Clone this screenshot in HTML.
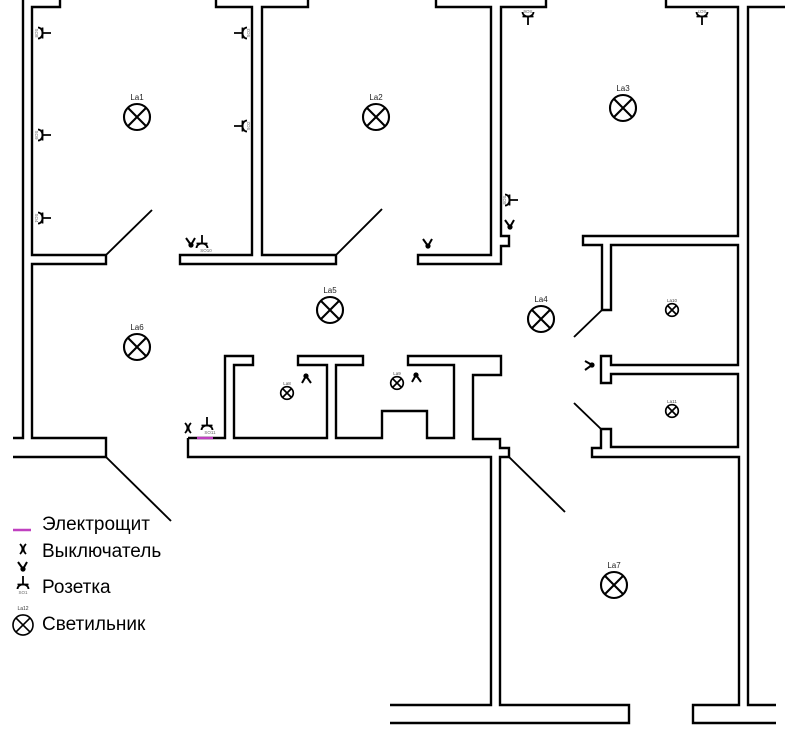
<!DOCTYPE html>
<html><head><meta charset="utf-8"><style>
html,body{margin:0;padding:0;background:#fff;}
svg{display:block;}
</style></head><body>
<svg width="805" height="733" viewBox="0 0 805 733" xmlns="http://www.w3.org/2000/svg">
<rect width="805" height="733" fill="#fff"/>
<defs>
  <g id="sock" fill="none" stroke="#000" stroke-width="1.8">
    <path d="M-5.5,0 A5.5,4.5 0 0 0 5.5,0"/>
    <path d="M-5.5,4.5 H5.5 M0,4.5 V13"/>
  </g>
  <g id="sw" fill="none" stroke="#000" stroke-width="2">
    <path d="M-5,-4 L0,3 L4,-4"/>
    <circle cx="0" cy="3" r="1.6" fill="#000"/>
  </g>
  <g id="lamp" fill="none" stroke="#000" stroke-width="2.1">
    <circle r="13"/>
    <path d="M-9.2,-9.2 L9.2,9.2 M9.2,-9.2 L-9.2,9.2"/>
  </g>
  <g id="slamp" fill="none" stroke="#000" stroke-width="1.7">
    <circle r="6.3"/>
    <path d="M-4.5,-4.5 L4.5,4.5 M4.5,-4.5 L-4.5,4.5"/>
  </g>
</defs>

<g fill="none" stroke="#000" stroke-width="2.4" stroke-linejoin="miter">
  <path d="M23,0 V438 H13"/>
  <path d="M60,0 V7 H32 V255 H106 V264 H32 V438 H106 V457 H13"/>
  <path d="M216,0 V7 H252 V255 H180 V264 H336 V255 H262 V7 H308 V0"/>
  <path d="M436,0 V7 H491 V255 H418 V264 H501 V246 H509 V236 H501 V7 H546 V0"/>
  <path d="M666,0 V7 H738 V236 H583 V245 H602 V310 H611 V245 H738 V365 H611 V356 H601 V383 H611 V374 H738 V447 H611 V429 H601 V448 H592 V457 H739 V705 H693 V723 H776"/>
  <path d="M785,7 H748 V705 H776"/>
  <path d="M188,438 H225 V356 H253 V365 H234 V438 H327 V365 H298 V356 H363 V365 H336 V438 H382 V411 H427 V438 H454 V365 H408 V356 H501 V375 H473 V439 H500 V448 H509 V457 H500 V705 H629 V723 H390"/>
  <path d="M188,438 V457 H491 V705 H390"/>
</g>

<g stroke="#000" stroke-width="1.9">
  <line x1="106" y1="255" x2="152" y2="210"/>
  <line x1="336" y1="255" x2="382" y2="209"/>
  <line x1="106" y1="457" x2="171" y2="521"/>
  <line x1="509" y1="457" x2="565" y2="512"/>
  <line x1="602" y1="310" x2="574" y2="337"/>
  <line x1="601" y1="429" x2="574" y2="403"/>
</g>

<!-- electric panel -->
<line x1="197" y1="438" x2="213" y2="438" stroke="#c040c0" stroke-width="2.4"/>

<!-- lamps -->
<g font-family="Liberation Sans, sans-serif" font-size="8" fill="#222" text-anchor="middle">
  <use href="#lamp" x="137" y="117"/><text x="137" y="100">La1</text>
  <use href="#lamp" x="376" y="117"/><text x="376" y="100">La2</text>
  <use href="#lamp" x="623" y="108"/><text x="623" y="91">La3</text>
  <use href="#lamp" x="541" y="319"/><text x="541" y="302">La4</text>
  <use href="#lamp" x="330" y="310"/><text x="330" y="293">La5</text>
  <use href="#lamp" x="137" y="347"/><text x="137" y="330">La6</text>
  <use href="#lamp" x="614" y="585"/><text x="614" y="568">La7</text>
</g>
<g font-family="Liberation Sans, sans-serif" font-size="4.5" fill="#444" text-anchor="middle">
  <use href="#slamp" x="287" y="393"/><text x="287" y="385">La8</text>
  <use href="#slamp" x="397" y="383"/><text x="397" y="375">La9</text>
  <use href="#slamp" x="672" y="310"/><text x="672" y="302">La10</text>
  <use href="#slamp" x="672" y="411"/><text x="672" y="403">La11</text>
</g>

<!-- sockets -->
<use href="#sock" transform="translate(38,33) rotate(-90)"/>
<use href="#sock" transform="translate(38,135) rotate(-90)"/>
<use href="#sock" transform="translate(38,218) rotate(-90)"/>
<use href="#sock" transform="translate(247,33) rotate(90)"/>
<use href="#sock" transform="translate(247,126) rotate(90)"/>
<use href="#sock" transform="translate(505,200) rotate(-90)"/>
<use href="#sock" transform="translate(528,12)"/>
<use href="#sock" transform="translate(702,12)"/>
<use href="#sock" transform="translate(202,248) rotate(180)"/>
<use href="#sock" transform="translate(207,430) rotate(180)"/>
<use href="#sock" transform="translate(23,589) rotate(180)"/>

<g font-family="Liberation Sans, sans-serif" font-size="4.5" fill="#666" text-anchor="middle">
  <text transform="translate(35,33) rotate(90)">SO8</text>
  <text transform="translate(35,135) rotate(90)">SO9</text>
  <text transform="translate(35,218) rotate(90)">SO4</text>
  <text transform="translate(250,33) rotate(-90)">SO3</text>
  <text transform="translate(250,126) rotate(-90)">SO2</text>
  <text transform="translate(503,200) rotate(90)">SO5</text>
  <text transform="translate(528,10) rotate(180)">SO6</text>
  <text transform="translate(702,10) rotate(180)">SO7</text>
  <text x="206" y="252">SO10</text>
  <text x="210" y="434">SO11</text>
  <text x="23" y="594">SO1</text>
</g>

<!-- switches -->
<use href="#sw" transform="translate(191,242)"/>
<use href="#sw" transform="translate(428,243)"/>
<use href="#sw" transform="translate(510,224)"/>
<use href="#sw" transform="translate(306,379) rotate(180)"/>
<use href="#sw" transform="translate(416,378) rotate(180)"/>
<use href="#sw" transform="translate(589,365) rotate(-90)"/>
<use href="#sw" transform="translate(23,566)"/>
<g fill="none" stroke="#000" stroke-width="1.8">
  <path d="M185,423 Q190,428 185,433 M191,423 Q186,428 191,433"/>
  <path d="M20,544 Q25,549 20,554 M26,544 Q21,549 26,554"/>
</g>

<!-- legend -->
<line x1="13" y1="530" x2="31" y2="530" stroke="#c040c0" stroke-width="2.4"/>
<use href="#lamp" transform="translate(23,625) scale(0.77)"/>
<text x="23" y="610" font-family="Liberation Sans, sans-serif" font-size="5" fill="#333" text-anchor="middle">La12</text>
<g font-family="Liberation Sans, sans-serif" font-size="19" fill="#000">
  <text x="42" y="530">Электрощит</text>
  <text x="42" y="557">Выключатель</text>
  <text x="42" y="593">Розетка</text>
  <text x="42" y="630">Светильник</text>
</g>
</svg>
</body></html>
